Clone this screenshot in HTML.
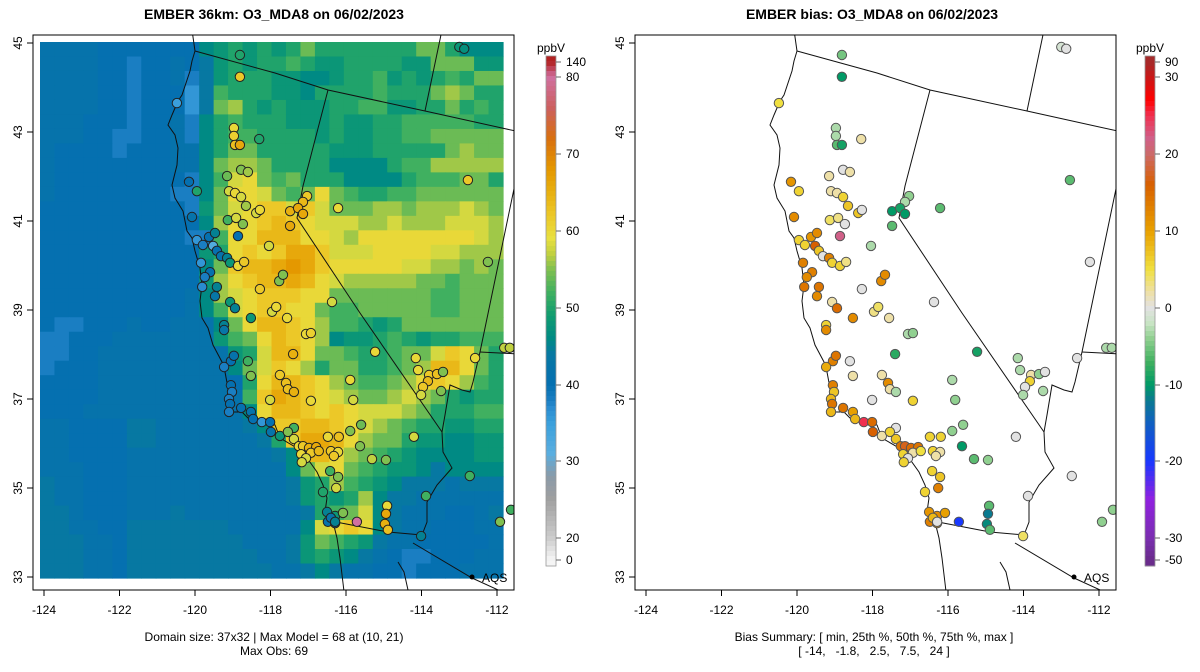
<!DOCTYPE html>
<html><head><meta charset="utf-8">
<style>
html,body{margin:0;padding:0;background:#fff;}
svg{display:block;font-family:"Liberation Sans",Arial,sans-serif;}
</style></head>
<body>
<svg id="chart" width="1200" height="672" viewBox="0 0 1200 672" xmlns="http://www.w3.org/2000/svg">
<defs>
<clipPath id="clipL"><rect x="33" y="35" width="481" height="555"/></clipPath>
<clipPath id="clipR"><rect x="635" y="35" width="481" height="555"/></clipPath>
</defs>
<rect x="0" y="0" width="1200" height="672" fill="#fff"/>
<text x="274" y="19" text-anchor="middle" font-size="14" font-weight="bold">EMBER 36km: O3_MDA8 on 06/02/2023</text>
<text x="872" y="19" text-anchor="middle" font-size="14" font-weight="bold">EMBER bias: O3_MDA8 on 06/02/2023</text>
<g id="heat" clip-path="url(#clipL)"></g>
<g id="mapL" clip-path="url(#clipL)"></g>
<g id="mapR" clip-path="url(#clipR)"></g>
<g id="ptsL" clip-path="url(#clipL)"></g>
<g id="ptsR" clip-path="url(#clipR)"></g>
<rect x="33" y="35" width="481" height="555" fill="none" stroke="#000" stroke-width="1"/>
<rect x="635" y="35" width="481" height="555" fill="none" stroke="#000" stroke-width="1"/>
<g id="axes" font-size="12"></g>
<g id="cbars" font-size="12"></g>
<text x="274" y="641" text-anchor="middle" font-size="12">Domain size: 37x32 | Max Model = 68 at (10, 21)</text>
<text x="274" y="655" text-anchor="middle" font-size="12">Max Obs: 69</text>
<text x="874" y="641" text-anchor="middle" font-size="12">Bias Summary: [ min, 25th %, 50th %, 75th %, max ]</text>
<text x="874" y="655" text-anchor="middle" font-size="12" xml:space="preserve">[ -14,   -1.8,   2.5,   7.5,   24 ]</text>
</svg>
<script>
// ---- data ----
const gridRows = [
"DDDDCCCCCCCFGHGHGHJHHHHHHHJJHFFF",
"DDDDCCBCCDCEGHGHHIHGGHHHHGGJJJGG",
"DDDDCCBCCDBEGHHHGGFFGHHIGHGHIHJJ",
"DDDDCCBCCCAEIHHHGGFHHHHIHHHJKJHH",
"DDDDCCBCCCAEJKHGHGGGHHIIGGHHJHIH",
"DDDCCCBCCDBFHIHHHGGGHGGHHIIIIIHH",
"DDDCCBBCCDBFHIIHHHHGHGGHHIIJJJJJ",
"DCCCCBCCCDDFHJJHHHHHGGGHHHHHJKJJ",
"DCCCCCCCCDDFJKKJHHHHFFFFHIIKKKKK",
"DCCCCCCCCCBFILMJIJHHHFFFFHIIIJJH",
"DCCCCCCCCBBFJMMLJIJMJIHHIIJJJJJJ",
"CCCCCCCCCCBGJLMNNLNLJJJKKJKKKLKJ",
"CCCCCCCCCCCFKMMNONMLLLKKLKKKLLLK",
"CCCCCCCCCCBBIMMOOOMMLKMMMMMMMMLK",
"CCCCCCCCCCCGHMNMNPPNLLLMMMMLLKKK",
"CCCCCCCCCCCFJNOOPQPNMMMMMLLKKJKJ",
"CCCCCCCCCCCGKMNOOPOMLKKKKKJJIJJJ",
"CCCCCCCCCCDFKLMNNNMMJJJJJJJIIJJJ",
"CCCCCCCCCCDFILMNNMMJIIJJJJJIIJJJ",
"CBBCCCDCCDDDFJMOONMKIIHGHJJJJJJJ",
"BBCCCDDDDDDDGIJMONMKFGGHIHGHHIII",
"BBCCDDDDDDDDDGHLOOMJJIHHIJJLNMJH",
"BCCCDDDDDDDDDFJLNMKHJJHHIJKOOMJH",
"CCCCDDDDDDDDDCHMOONMKJIIJKMNMKIH",
"CCCCDDDDDDDDDDINPONMLKJJKLKJHGHH",
"CCCDDDDDDDDDDDFMOONMNMLLLKJHHHII",
"DDCCCCEEDDDDDDEFNNOONMLKJIHHGGHH",
"DDCCCCEEDDDDDDDEHNPPOMKJJHGGFFGG",
"DDCCCCDDDDDDDDDDEFOOMKJIHGFFFFGG",
"DDDCCCDDDDDDDDDDDFJLMJIHGGFEFFFF",
"EDDCCCDDDDDDDDDDDEGHKIHGFEEEDEEE",
"EDDCCCDDDDDDDDDDDEGHGHKFEEDDDDDD",
"EEDCCCDDDEDDDDDDDDEHIJLFEDDDCCDE",
"EEDDCCEEEEEEEDDDDDFLMNMFEDDCCCDD",
"EEEDDCEEEEEEEEDDDEGJIHGEDDCCCCCD",
"EEEDDCEEEEEEEEEDDEGHGFEDCBBCCCDD",
"EEEDDCEEEEEEEEEEDDEFEDDCCBCCCDDD"
];
const codeLetters = "ABCDEFGHIJKLMNOPQ";
const codeValues = [36,38,40,42,44,46,48,50,52,54,56,58,60,62,64,66,68];

const stLon = [-118.81,-118.81,-120.48,-113.0,-112.87,-118.97,-118.97,-118.94,-118.81,-118.30,-118.78,-118.60,-119.15,-120.16,-119.95,-119.10,-118.94,-118.78,-120.08,-118.65,-118.38,-118.28,-119.13,-118.91,-118.73,-118.86,-117.03,-117.14,-117.48,-117.27,-117.14,-116.21,-117.48,
-119.95,-119.79,-119.63,-119.47,-119.52,-119.42,-119.31,-119.15,-119.07,-119.84,-119.60,-119.74,-119.81,-119.42,-119.47,-118.86,-118.70,-118.04,-117.77,-117.67,-118.28,-119.07,-118.94,-118.52,-119.23,-119.23,
-116.37,-117.56,-117.96,-117.85,-117.06,-116.93,-117.40,-115.23,-119.05,-118.97,-119.23,-118.60,-118.52,-117.75,-117.59,-117.54,-117.38,-118.01,-119.05,-119.02,-119.10,-119.07,-119.10,-118.78,-118.52,-118.46,-118.23,-118.01,-117.99,-117.75,-117.38,-117.54,-117.38,-117.25,-117.14,-116.98,-116.79,-116.93,-117.19,-117.06,-117.17,-116.72,-116.48,-116.19,-116.40,-116.21,-116.32,-115.89,-115.60,-115.63,-115.31,-114.94,-116.42,-116.21,-116.26,-116.61,-116.93,-115.81,-113.88,
-116.50,-116.29,-116.08,-116.48,-116.29,-116.40,-116.29,-115.71,-114.91,-114.94,-114.97,-114.89,-114.01,
-114.15,-114.09,-113.80,-113.59,-113.83,-113.96,-113.43,-114.01,-113.48,-114.20,-112.72,-112.58,-112.24,-111.81,-111.66,-111.92,-111.63,-112.77,-115.89];
const stLat = [44.73,44.24,43.65,44.91,44.87,43.09,42.91,42.71,42.71,42.84,42.15,42.10,42.01,41.88,41.67,41.67,41.63,41.54,41.09,41.34,41.18,41.25,41.02,41.07,40.93,40.66,41.56,41.43,41.22,41.29,41.16,41.29,40.89,
40.57,40.46,40.64,40.73,40.44,40.33,40.21,40.17,40.06,40.06,39.85,39.74,39.52,39.52,39.31,39.99,40.08,40.44,39.65,39.79,39.47,39.18,39.04,38.82,38.66,38.55,
39.18,38.82,38.96,39.07,38.46,38.48,38.01,38.06,37.85,37.97,37.72,37.85,37.52,37.54,37.36,37.22,37.16,36.98,37.31,37.16,37.00,36.89,36.71,36.80,36.71,36.55,36.48,36.48,36.26,36.17,36.35,36.26,36.10,35.94,35.94,35.90,35.92,35.79,35.76,35.67,35.58,35.83,36.15,36.15,35.83,35.81,35.72,36.28,36.42,35.94,35.65,35.63,35.38,35.25,35.00,34.91,36.96,36.98,34.82,
34.46,34.37,34.44,34.24,34.21,34.33,34.24,34.24,34.60,34.42,34.19,34.06,33.92,
37.92,37.65,37.54,37.56,37.40,37.27,37.61,37.09,37.18,36.15,35.27,37.92,40.08,38.15,38.15,34.24,34.51,41.92,37.43];
const stObs = [50,62,35,48,47,60,61,63,66,50,55,56,54,40,50,58,60,58,42,56,58,60,52,58,55,40,62,64,65,66,66,60,66,
36,38,40,45,32,40,42,45,48,36,40,38,37,45,43,60,62,58,55,55,62,48,45,48,45,43,
58,60,58,60,60,61,65,60,40,42,38,52,55,62,63,63,65,58,40,38,38,40,38,40,42,40,36,40,42,48,52,55,58,60,62,65,66,62,60,58,58,64,60,63,62,60,62,55,54,55,57,55,52,55,58,50,60,58,52,
45,48,55,42,44,42,45,80,60,66,65,63,45,
60,60,62,63,64,62,55,58,55,58,52,60,55,57,57,55,52,62,60];
const stBias = [-5,-10,5,-1,0,-3,-3,-6,-9,2,0,2,2,11,6,2,2,6,12,7,7,0,4,3,0,22,-4,-3,-10,-9,-10,-6,-6,
6,6,11,12,16,7,0,13,6,13,13,12,14,14,12,6,3,-3,12,12,0,2,15,12,6,12,
0,2,3,4,-3,-4,-8,-9,13,14,9,0,2,2,12,2,-3,0,13,7,8,14,8,14,10,8,25,15,16,2,0,6,7,14,17,15,14,2,6,0,6,5,6,6,6,2,2,-4,-4,-10,-6,-4,6,7,13,6,6,-4,0,
11,12,10,13,11,8,0,-20,-6,-12,-11,-6,4,
-3,-3,2,-4,6,0,0,-3,-3,0,0,0,0,-3,-3,-4,-4,-6,-3];

const cbTickLabelsL = ["140","80","70","60","50","40","30","20","0"];
const cbTickValsL = [140,80,70,60,50,40,30,20,0];
const cbTickLabelsR = ["90","30","20","10","0","-10","-20","-30","-50"];
const cbTickValsR = [90,30,20,10,0,-10,-20,-30,-50];
const lonTicks = [-124,-122,-120,-118,-116,-114,-112];
const latTicks = [45,43,41,39,37,35,33];

// ---- scales ----
const NS="http://www.w3.org/2000/svg";
function xL(lon){return 44+(lon+124)*37.75;}
function yL(lat){return 43+(45-lat)*44.5;}
const RSHIFT=602;
const cbPos=[62,77,154,231,308,385,461,538,560];

function hex(c){return [parseInt(c.substr(1,2),16),parseInt(c.substr(3,2),16),parseInt(c.substr(5,2),16)];}
function ramp(stops,v){
  if(v<=stops[0][0])return stops[0][1];
  if(v>=stops[stops.length-1][0])return stops[stops.length-1][1];
  for(let i=0;i<stops.length-1;i++){
    const a=stops[i],b=stops[i+1];
    if(v>=a[0]&&v<=b[0]){
      const t=(v-a[0])/(b[0]-a[0]);const ca=hex(a[1]),cb=hex(b[1]);
      return "rgb("+ca.map((x,k)=>Math.round(x+(cb[k]-x)*t)).join(",")+")";
    }
  }
}
const o3Stops=[[0,"#f5f5f5"],[20,"#cccccc"],[25,"#a0a0a0"],[28,"#8a9aa8"],[31,"#5aaee0"],[35,"#3aa0dc"],[37,"#2a8cd0"],[38,"#1a7ec2"],[40,"#0570b0"],[42,"#0673ab"],[44,"#0778a2"],[46,"#008a84"],[49,"#109c70"],[52,"#40b060"],[55,"#80c050"],[57,"#c0d040"],[59,"#e8e040"],[62,"#ecc828"],[65,"#e8b010"],[68,"#e49800"],[72,"#d87010"],[76,"#cc6060"],[80,"#d070a0"],[140,"#b22222"]];
const biasStops=[[-50,"#6a2c8c"],[-30,"#7a2eb0"],[-25,"#9020e0"],[-20,"#1838ff"],[-15,"#1060c0"],[-12,"#0a7a90"],[-10,"#009a66"],[-7,"#40b060"],[-4,"#90d090"],[-2,"#c8e4c4"],[0,"#e2e2e2"],[2,"#eee0a8"],[5,"#f0e040"],[8,"#ecb818"],[10,"#e8a000"],[13,"#e08000"],[16,"#d86000"],[20,"#cc6a6a"],[22,"#d06088"],[25,"#f03050"],[27,"#ff0000"],[30,"#c81818"],[90,"#a52a2a"]];

function mk(tag,attrs,parent){const e=document.createElementNS(NS,tag);for(const k in attrs)e.setAttribute(k,attrs[k]);parent.appendChild(e);return e;}

// ---- heatmap ----
const heat=document.getElementById('heat');
const nR=gridRows.length,nC=gridRows[0].length;
const gx0=40,gy0=42,gw=463/nC,gh=536/nR;
for(let r=0;r<nR;r++){for(let c=0;c<nC;c++){
  const v=codeValues[codeLetters.indexOf(gridRows[r][c])];
  const e=mk('rect',{x:(gx0+c*gw).toFixed(2),y:(gy0+r*gh).toFixed(2),width:(gw+0.6).toFixed(2),height:(gh+0.6).toFixed(2),fill:ramp(o3Stops,v)},heat);
  
  
}}

// ---- map outlines (left-panel pixel geometry) ----
const lines=[
 [[192,30],[195,51],[192,61],[190,71],[182,95],[178,101],[172,115],[168,125],[175,135],[178,148],[177,165],[172,185],[175,198],[183,211],[187,231],[192,238],[195,251],[200,268],[202,285],[200,301],[202,318],[208,328],[213,345],[222,362],[225,372],[228,388],[227,402],[228,412],[242,412],[248,418],[262,420],[275,425],[280,438],[297,448],[307,458],[317,472],[323,485],[327,498],[325,512],[333,522],[337,538],[340,558],[343,583],[345,600]],
 [[195,51],[275,73],[328,90],[425,111],[520,132]],
 [[328,90],[303,186],[297,218],[360,313],[442,432]],
 [[425,111],[442,30]],
 [[520,160],[480,352],[473,382],[470,392],[462,390],[450,385],[445,415],[442,432],[443,452],[452,468],[437,485],[427,502],[427,522],[422,535]],
 [[480,352],[520,354]],
 [[336,522],[388,532],[422,535]],
 [[413,543],[472,578],[520,600]],
 [[398,562],[404,572],[408,590]]
];
function drawMap(g,shift){
  lines.forEach(pl=>{
    const e=mk('polyline',{points:pl.map(p=>(p[0]+shift)+","+p[1]).join(" "),fill:"none",stroke:"#111","stroke-width":"1"},g);
    
    
  });
  const d=mk('circle',{cx:472+shift,cy:577,r:2.5,fill:"#000"},g);
  
  
  const t=mk('text',{x:482+shift,y:582,"font-size":"12"},g);t.textContent="AQS";
  
  
}
drawMap(document.getElementById('mapL'),0);
drawMap(document.getElementById('mapR'),RSHIFT);

// ---- stations ----
const ptsL=document.getElementById('ptsL'),ptsR=document.getElementById('ptsR');
for(let i=0;i<stLon.length;i++){
  const a=mk('circle',{cx:xL(stLon[i]).toFixed(1),cy:yL(stLat[i]).toFixed(1),r:4.7,fill:ramp(o3Stops,stObs[i]),stroke:"#222","stroke-width":"1"},ptsL);
  
  
  const b=mk('circle',{cx:(xL(stLon[i])+RSHIFT).toFixed(1),cy:yL(stLat[i]).toFixed(1),r:4.7,fill:ramp(biasStops,stBias[i]),stroke:"#555","stroke-width":"1"},ptsR);
  
  
}

// ---- axes ----
const axes=document.getElementById('axes');
[0,RSHIFT].forEach(sh=>{
  lonTicks.forEach(lo=>{
    const x=xL(lo)+sh;
    const tk=mk('line',{x1:x,y1:590,x2:x,y2:596,stroke:"#000"},axes);
    
    
    const t=mk('text',{x:x,y:614,"text-anchor":"middle"},axes);t.textContent=String(lo);
    
    
  });
  latTicks.forEach(la=>{
    const y=yL(la);
    const tk=mk('line',{x1:33+sh,y1:y,x2:27+sh,y2:y,stroke:"#000"},axes);
    
    
    const t=mk('text',{x:0,y:0,"text-anchor":"middle",transform:"translate("+(22+sh)+","+y+") rotate(-90)"},axes);t.textContent=String(la);
    
    
  });
});

// ---- colorbars ----
const cb=document.getElementById('cbars');
function posToVal(p,vals){
  if(p<=cbPos[0])return vals[0];
  if(p>=cbPos[cbPos.length-1])return vals[vals.length-1];
  for(let i=0;i<cbPos.length-1;i++){if(p>=cbPos[i]&&p<=cbPos[i+1]){const t=(p-cbPos[i])/(cbPos[i+1]-cbPos[i]);return vals[i]+(vals[i+1]-vals[i])*t;}}
}
function drawBar(x0,vals,labels,stops,name){
  const top=56,bot=566,step=5;
  for(let y=top;y<bot;y+=step){
    const v=posToVal(y+step/2,vals);
    const r=mk('rect',{x:x0,y:y,width:10,height:step+0.5,fill:ramp(stops,v)},cb);
    
    
  }
  const fr=mk('rect',{x:x0,y:top,width:10,height:bot-top,fill:"none",stroke:"#999","stroke-width":"0.8"},cb);
  
  
  labels.forEach((lab,i)=>{
    const y=cbPos[i];
    const tk=mk('line',{x1:x0+10,y1:y,x2:x0+15,y2:y,stroke:"#666"},cb);
    
    
    const t=mk('text',{x:x0+20,y:y+4},cb);t.textContent=lab;
    
    
  });
  const u=mk('text',{x:x0+5,y:52,"text-anchor":"middle"},cb);u.textContent="ppbV";
  
  
}
drawBar(546,cbTickValsL,cbTickLabelsL,o3Stops,'o3-colorbar');
drawBar(1145,cbTickValsR,cbTickLabelsR,biasStops,'bias-colorbar');
</script>
</body></html>
